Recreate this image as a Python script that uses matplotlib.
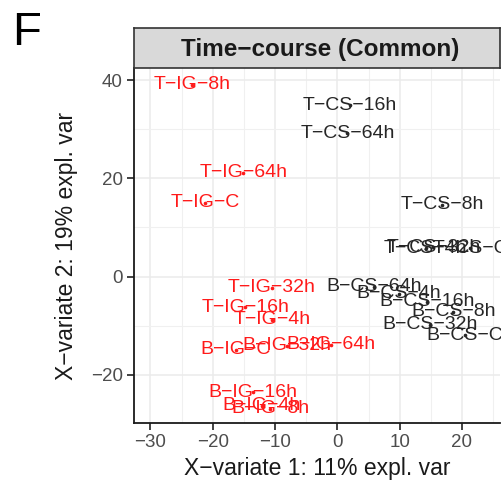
import matplotlib
matplotlib.use("Agg")
import matplotlib.pyplot as plt
from matplotlib.ticker import MultipleLocator

plt.rcParams['font.family'] = ['Liberation Sans', 'DejaVu Sans']
plt.rcParams['axes.unicode_minus'] = True

M = "\u2212"
labels = ["T-IG-8h", "T-IG-64h", "T-IG-C", "T-IG-32h", "T-IG-16h", "T-IG-4h",
          "T-CS-16h", "T-CS-64h", "T-CS-8h", "T-CS-4h", "T-CS-32h", "T-CS-C",
          "B-CS-64h", "B-CS-4h", "B-CS-16h", "B-CS-8h", "B-CS-32h", "B-CS-C",
          "B-IG-C", "B-IG-32h", "B-IG-64h", "B-IG-16h", "B-IG-4h", "B-IG-8h"]
comp1 = [-23.3, -15.1, -21.2, -10.5, -14.8, -10.5,
         2.0, 1.6, 16.8, 14.2, 15.4, 21.3,
         5.9, 9.9, 14.4, 18.6, 14.9, 20.5,
         -16.3, -8.1, -1.0, -13.5, -12.1, -10.8]
comp2 = [39.0, 21.1, 15.0, -2.3, -6.2, -8.8,
         34.9, 29.2, 14.6, 5.8, 6.0, 5.8,
         -2.1, -3.5, -5.1, -7.2, -9.8, -11.9,
         -14.9, -14.1, -13.9, -23.5, -26.3, -26.9]
group_colors = {"IG": "#FF1A1A", "CS": "#262626"}

xticks = [-30, -20, -10, 0, 10, 20]
yticks = [-20, 0, 20, 40]

W, H = 501, 483
fig = plt.figure(figsize=(W / 100, H / 100), dpi=100)

left, right, bottom, top = 134, 500, 423, 68
ax = fig.add_axes([left / W, 1 - bottom / H, (right - left) / W, (bottom - top) / H])
ax.set_xlim(-32.63, 26.1)
ax.set_ylim(-29.8, 42.45)
ax.set_facecolor("white")
ax.xaxis.set_minor_locator(MultipleLocator(5))
ax.yaxis.set_minor_locator(MultipleLocator(10))
ax.set_xticks(xticks)
ax.set_yticks(yticks)
ax.grid(True, which="major", color="#EBEBEB", lw=1.1)
ax.grid(True, which="minor", color="#F0F0F0", lw=0.8)
ax.set_axisbelow(True)
for s in ["top", "right"]:
    ax.spines[s].set_visible(False)
for s in ["left", "bottom"]:
    ax.spines[s].set_color("#1A1A1A")
    ax.spines[s].set_linewidth(1.3)
ax.tick_params(which="major", length=5, width=1.3, color="#333333",
               labelsize=13.5, labelcolor="#4D4D4D", pad=3)
ax.tick_params(which="minor", length=0)

for lab, x, y in zip(labels, comp1, comp2):
    col = group_colors[lab.split("-")[1]]
    ax.plot(x, y, "o", ms=1.6, color=col, zorder=3)
    ax.text(x, y, lab.replace("-", M), color=col, fontsize=14,
            ha="center", va="center", zorder=4, clip_on=False)

ax.set_xlabel("X" + M + "variate 1: 11% expl. var", fontsize=16.5, color="#1A1A1A", labelpad=4)
ax.set_ylabel("X" + M + "variate 2: 19% expl. var", fontsize=16.5, color="#1A1A1A", labelpad=9)

# facet strip
sax = fig.add_axes([left / W, 1 - top / H, (right - left) / W, 40 / H])
sax.set_facecolor("#D9D9D9")
sax.set_xticks([])
sax.set_yticks([])
for s in sax.spines.values():
    s.set_color("#333333")
    s.set_linewidth(1.2)
sax.text(0.51, 0.47, "Time" + M + "course (Common)", transform=sax.transAxes,
         ha="center", va="center", fontsize=17.5, fontweight="bold", color="#1A1A1A")

fig.text(12 / W, 1 - 33 / H, "F", fontsize=34, ha="left", va="center", color="black")

fig.savefig("out.png", dpi=100)
